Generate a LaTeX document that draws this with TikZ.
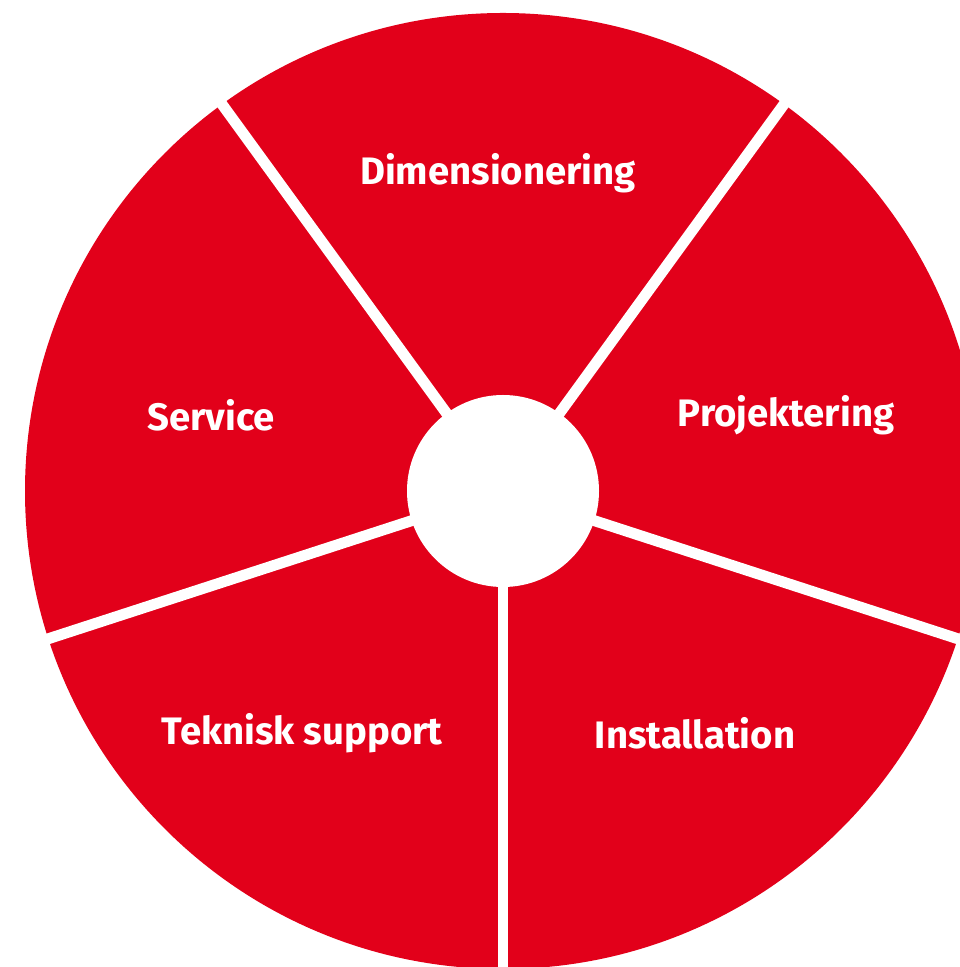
\documentclass[tikz,border=0pt]{standalone}
\usepackage{fontspec}
\setmainfont{Fira Sans}
\usepackage{tikz}
\definecolor{rot}{HTML}{E2001A}

\begin{document}
\begin{tikzpicture}[line cap=butt,line join=round,x=0.02cm,y=0.02cm]
		\useasboundingbox (0,0) rectangle (960,967);
		\clip (0,0) rectangle (960,967);

		% Kreis
		\coordinate (M) at (503,476);
		\fill[rot] (M) circle (478);

		% Trennlinien
		\draw[white,line width=6.2pt] (M) -- ++(54:600);
		\draw[white,line width=6.2pt] (M) -- ++(126:600);
		\draw[white,line width=6.2pt] (M) -- ++(198:600);
		\draw[white,line width=6.2pt] (M) -- ++(270:600);
		\draw[white,line width=6.2pt] (M) -- ++(342:600);

		% Mitte
		\fill[white] (M) circle (96);

		\draw[color=white] (498,794) node (dim) {\fontsize{21.8}{24}\bfseries Dimensionering};
		\draw[color=white] (786,552) node (pro) {\fontsize{21.8}{24}\bfseries Projektering};
		\draw[color=white] (695,234) node (ins) {\fontsize{21.8}{24}\bfseries Installation};
		\draw[color=white] (302,234) node (tek) {\fontsize{21.8}{24}\bfseries Teknisk support};
		\draw[color=white] (211,552) node (ser) {\fontsize{21.8}{24}\bfseries Service};
	\end{tikzpicture}
\end{document}
